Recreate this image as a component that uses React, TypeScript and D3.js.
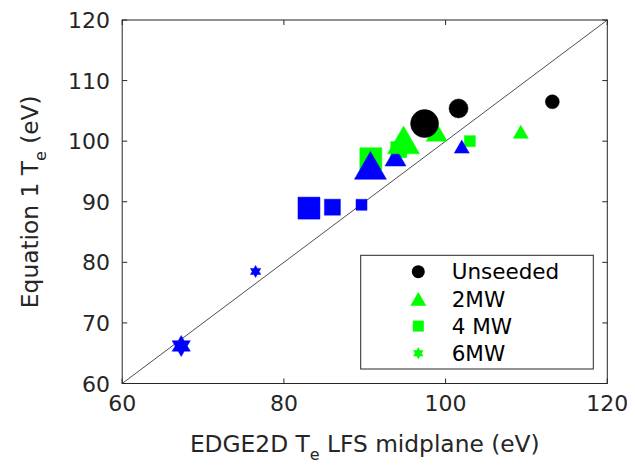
import React from 'react';
import * as d3 from 'd3';

// EDGE2D Te (x) vs Equation 1 Te (y), sizes: 0 small, 1 medium, 2 large
const unseededX = [97.4, 101.6, 113.2];
const unseededY = [102.9, 105.4, 106.5];
const unseededSize = [2, 1, 0];

const mw2X = [94.8, 98.9, 109.3];
const mw2Y = [100.2, 101.5, 101.55];
const mw2Size = [2, 1, 0];

const mw4X = [90.75, 94.2, 103.0];
const mw4Y = [97.1, 98.6, 100.0];
const mw4Size = [2, 1, 0];

const blueTriX = [90.7, 93.8, 102.0];
const blueTriY = [96.0, 97.4, 99.1];
const blueTriSize = [2, 1, 0];

const blueSqX = [83.1, 86.0, 89.6];
const blueSqY = [88.95, 89.1, 89.5];
const blueSqSize = [2, 1, 0];

const blueStarX = [67.3, 76.5];
const blueStarY = [66.2, 78.5];
const blueStarSize = [2, 0];

const legendLabels = ['Unseeded', '2MW', '4 MW', '6MW'];
const xTicks = [60, 80, 100, 120];
const yTicks = [60, 70, 80, 90, 100, 110, 120];

const W = 635;
const H = 466;
const ink = '#262626';
const font = 'DejaVu Sans, sans-serif';

// pixel size per size class and shape
const sizeOf: Record<string, number[]> = {
  circle: [14, 19, 28],
  triangle: [15, 21, 32],
  square: [11, 16, 22],
  star: [12, 16, 21],
};

function shapePath(shape: string, s: number) {
  if (shape === 'triangle') {
    const h = s * 0.866;
    return `M0,${-h / 2}L${s / 2},${h / 2}L${-s / 2},${h / 2}Z`;
  }
  if (shape === 'square') {
    return `M${-s / 2},${-s / 2}h${s}v${s}h${-s}Z`;
  }
  if (shape === 'star') {
    const R = s / 2;
    const r = R / Math.sqrt(3);
    const pts = d3.range(12).map((i) => {
      const a = -Math.PI / 2 + (i * Math.PI) / 6;
      const rad = i % 2 === 0 ? R : r;
      return [rad * Math.cos(a), rad * Math.sin(a)];
    });
    return 'M' + pts.map((p) => p.join(',')).join('L') + 'Z';
  }
  // circle
  const r = s / 2;
  return `M${r},0A${r},${r} 0 1,1 ${-r},0A${r},${r} 0 1,1 ${r},0Z`;
}

const x = d3.scaleLinear().domain([60, 120]).range([122.2, 607.3]);
const y = d3.scaleLinear().domain([60, 120]).range([383.5, 20]);

// drawing order follows the original overlaps
const series = [
  { xs: mw4X, ys: mw4Y, sz: mw4Size, shape: 'square', color: '#00ff00' },
  { xs: blueSqX, ys: blueSqY, sz: blueSqSize, shape: 'square', color: '#0000ff' },
  { xs: blueTriX, ys: blueTriY, sz: blueTriSize, shape: 'triangle', color: '#0000ff' },
  { xs: blueStarX, ys: blueStarY, sz: blueStarSize, shape: 'star', color: '#0000ff' },
  { xs: mw2X, ys: mw2Y, sz: mw2Size, shape: 'triangle', color: '#00ff00' },
  { xs: unseededX, ys: unseededY, sz: unseededSize, shape: 'circle', color: '#000000' },
];

const legendItems = [
  { shape: 'circle', color: '#000000', s: 13 },
  { shape: 'triangle', color: '#00ff00', s: 16 },
  { shape: 'square', color: '#00ff00', s: 11 },
  { shape: 'star', color: '#00ff00', s: 12 },
];

export default function App() {
  const [x0, x1] = x.range();
  const [y0, y1] = y.range();
  const tick = 5;
  return (
    <svg width={W} height={H} style={{ position: 'absolute', left: 0, top: 0, background: '#fff' }}
      fontFamily={font}>
      <rect x={0} y={0} width={W} height={H} fill="#fff" />
      {/* identity line */}
      <line x1={x(60)} y1={y(60)} x2={x(120)} y2={y(120)} stroke="#3a3a3a" strokeWidth={0.9} />

      {series.map((sr, si) =>
        sr.xs.map((v, i) => (
          <path key={`${si}-${i}`} d={shapePath(sr.shape, sizeOf[sr.shape][sr.sz[i]])}
            transform={`translate(${x(v)},${y(sr.ys[i])})`} fill={sr.color} stroke={sr.color}
            strokeWidth={0.5} />
        ))
      )}

      {/* axes box */}
      <rect x={x0} y={y1} width={x1 - x0} height={y0 - y1} fill="none" stroke={ink} strokeWidth={1} />
      {xTicks.map((t) => (
        <g key={`xt${t}`}>
          <line x1={x(t)} x2={x(t)} y1={y0} y2={y0 - tick} stroke={ink} />
          <line x1={x(t)} x2={x(t)} y1={y1} y2={y1 + tick} stroke={ink} />
          <text x={x(t)} y={411} textAnchor="middle" fontSize={22} fill={ink}>{t}</text>
        </g>
      ))}
      {yTicks.map((t) => (
        <g key={`yt${t}`}>
          <line x1={x0} x2={x0 + tick} y1={y(t)} y2={y(t)} stroke={ink} />
          <line x1={x1} x2={x1 - tick} y1={y(t)} y2={y(t)} stroke={ink} />
          <text x={110} y={y(t) + 8} textAnchor="end" fontSize={22} fill={ink}>{t}</text>
        </g>
      ))}

      {/* axis labels */}
      <text x={(x0 + x1) / 2} y={452} textAnchor="middle" fontSize={23.3} fill={ink}>
        EDGE2D T<tspan dy={8} fontSize={16}>e</tspan><tspan dy={-8}> LFS midplane (eV)</tspan>
      </text>
      <text transform={`translate(38,${(y0 + y1) / 2}) rotate(-90)`} textAnchor="middle" fontSize={23.3} fill={ink}>
        Equation 1 T<tspan dy={8} fontSize={16}>e</tspan><tspan dy={-8}> (eV)</tspan>
      </text>

      {/* legend */}
      <rect x={360.7} y={255.3} width={232.6} height={113.7} fill="#fff" stroke={ink} strokeWidth={1} />
      {legendLabels.map((lab, i) => {
        const ly = 271.7 + i * 27.2;
        const it = legendItems[i];
        return (
          <g key={lab}>
            <path d={shapePath(it.shape, it.s)} transform={`translate(418.3,${ly})`} fill={it.color} />
            <text x={451.7} y={ly + 7.6} fontSize={21.5} fill="#000">{lab}</text>
          </g>
        );
      })}
    </svg>
  );
}
